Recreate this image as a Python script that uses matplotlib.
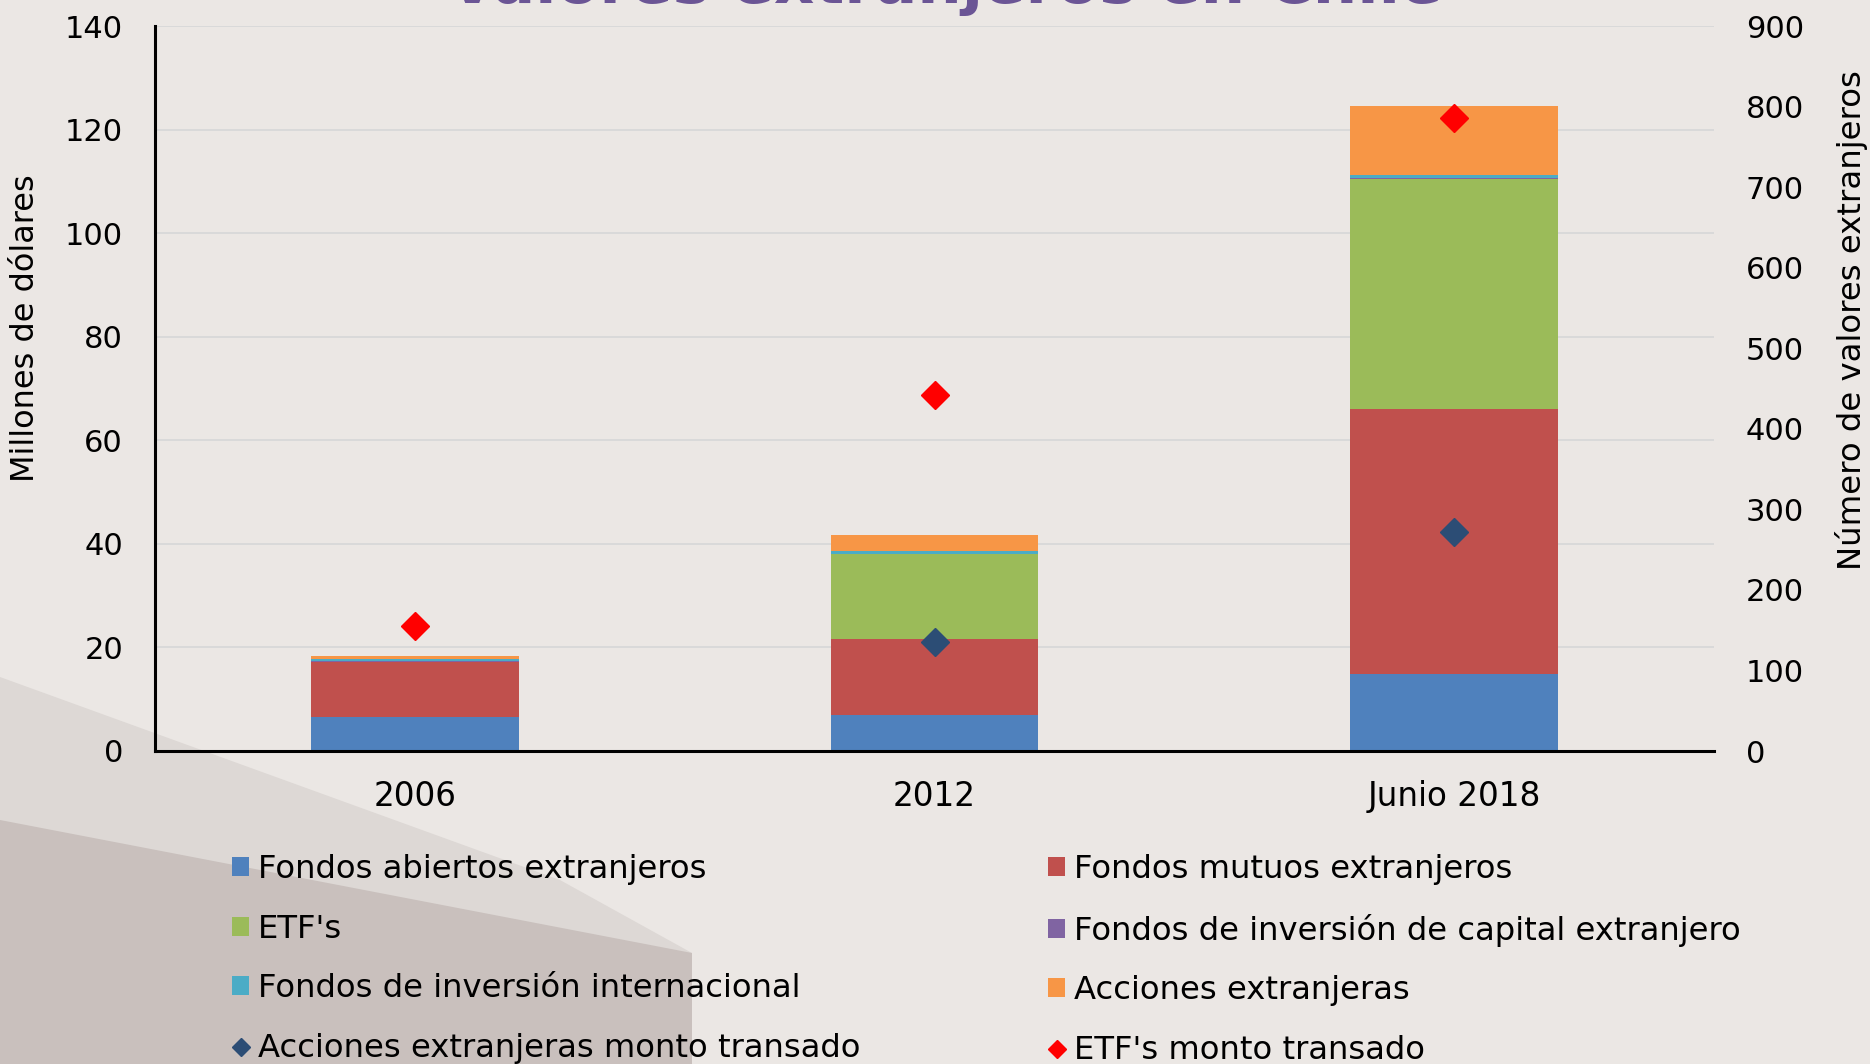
import numpy as np
import matplotlib
matplotlib.use("Agg")
import matplotlib.pyplot as plt
from matplotlib.patches import Patch, Polygon
from matplotlib.lines import Line2D

# datos (millones de dolares, eje izquierdo)
categorias = ["2006", "2012", "Junio 2018"]
fondos_abiertos = [6.5, 6.9, 14.8]
fondos_mutuos = [10.6, 14.8, 51.2]
etfs = [0.0, 16.3, 44.5]
fondos_capital = [0.2, 0.1, 0.1]
fondos_internacional = [0.5, 0.5, 0.6]
acciones = [0.45, 3.2, 13.4]

# monto transado (eje derecho)
acciones_monto = [np.nan, 135, 272]
etf_monto = [155, 442, 786]

series = [
    ("Fondos abiertos extranjeros", fondos_abiertos, "#4F81BD"),
    ("Fondos mutuos extranjeros", fondos_mutuos, "#C0504D"),
    ("ETF's", etfs, "#9BBB59"),
    ("Fondos de inversión de capital extranjero", fondos_capital, "#8064A2"),
    ("Fondos de inversión internacional", fondos_internacional, "#4BACC6"),
    ("Acciones extranjeras", acciones, "#F79646"),
]

W, H = 1870, 1064
fig = plt.figure(figsize=(W / 100, H / 100), dpi=100)
fig.patch.set_facecolor("#EBE7E4")
plt.rcParams['font.family'] = 'DejaVu Sans'

# sombra diagonal del fondo
fig.patches.append(Polygon([(0, 1 - 677 / H), (560 / W, 1 - 880 / H), (692 / W, 1 - 953 / H),
                            (692 / W, 0), (0, 0)],
                           closed=True, transform=fig.transFigure, facecolor="#DDD8D5",
                           edgecolor="none", zorder=-10))
fig.patches.append(Polygon([(0, 1 - 820 / H), (692 / W, 1 - 953 / H), (692 / W, 0), (0, 0)],
                           closed=True, transform=fig.transFigure, facecolor="#C9C0BD",
                           edgecolor="none", zorder=-9))

ax = fig.add_axes([155 / W, 1 - 751 / H, (1714 - 155) / W, (751 - 26) / H])
ax.patch.set_alpha(0)
x = np.arange(len(categorias))
bottom = np.zeros(len(categorias))
for name, vals, color in series:
    ax.bar(x, vals, 0.4, bottom=bottom, color=color, linewidth=0, label=name, zorder=2)
    bottom += np.array(vals)

ax.set_xlim(-0.5, 2.5)
ax.set_ylim(0, 140)
ax.set_yticks(range(0, 141, 20))
ax.set_xticks(x)
ax.set_xticklabels(categorias)
ax.grid(axis="y", color="#D9D9D9", linewidth=1.4, zorder=0)
ax.set_axisbelow(True)
for s in ["top", "right"]:
    ax.spines[s].set_visible(False)
ax.spines["left"].set_linewidth(2.2)
ax.spines["bottom"].set_linewidth(2.2)
ax.tick_params(axis="y", length=0, pad=23, labelsize=22)
ax.tick_params(axis="x", length=0, pad=21, labelsize=23.5)

ax2 = ax.twinx()
ax2.set_ylim(0, 900)
ax2.set_yticks(range(0, 901, 100))
for s in ax2.spines.values():
    s.set_visible(False)
ax2.tick_params(axis="y", length=0, pad=23, labelsize=22)
ax2.plot(x, acciones_monto, linestyle="none", marker="D", markersize=14.3,
         color="#2C4D75", clip_on=False, zorder=5)
ax2.plot(x, etf_monto, linestyle="none", marker="D", markersize=14.3,
         color="#FF0000", clip_on=False, zorder=5)

fig.text(26 / W, 1 - 328 / H, "Millones de dólares", rotation=90, fontsize=23,
         ha="center", va="center")
fig.text(1851 / W, 1 - 320 / H, "Número de valores extranjeros", rotation=90, fontsize=23.3,
         ha="center", va="center")

fig.text(945 / W, 1 - 3 / H, "Valores extranjeros en Chile", fontsize=45, fontweight="bold",
         color="#6B5595", ha="center", va="baseline")

# leyenda en dos columnas
h = {name: Patch(facecolor=color, edgecolor="none") for name, vals, color in series}
d_acc = Line2D([], [], linestyle="none", marker="D", markersize=9, color="#2C4D75")
d_etf = Line2D([], [], linestyle="none", marker="D", markersize=9, color="#FF0000")
col1 = [(h["Fondos abiertos extranjeros"], "Fondos abiertos extranjeros"),
        (h["ETF's"], "ETF's"),
        (h["Fondos de inversión internacional"], "Fondos de inversión internacional"),
        (d_acc, "Acciones extranjeras monto transado")]
col2 = [(h["Fondos mutuos extranjeros"], "Fondos mutuos extranjeros"),
        (h["Fondos de inversión de capital extranjero"], "Fondos de inversión de capital extranjero"),
        (h["Acciones extranjeras"], "Acciones extranjeras"),
        (d_etf, "ETF's monto transado")]
for col, x0 in [(col1, 232), (col2, 1048)]:
    leg = fig.legend([c[0] for c in col], [c[1] for c in col], loc="upper left",
                     bbox_to_anchor=(x0 / W, 1 - 854 / H), frameon=False, fontsize=23.2,
                     handlelength=0.53, handleheight=0.53, handletextpad=0.28,
                     labelspacing=0.89, borderpad=0, borderaxespad=0)

fig.savefig("out.png", dpi=100, facecolor=fig.get_facecolor())
